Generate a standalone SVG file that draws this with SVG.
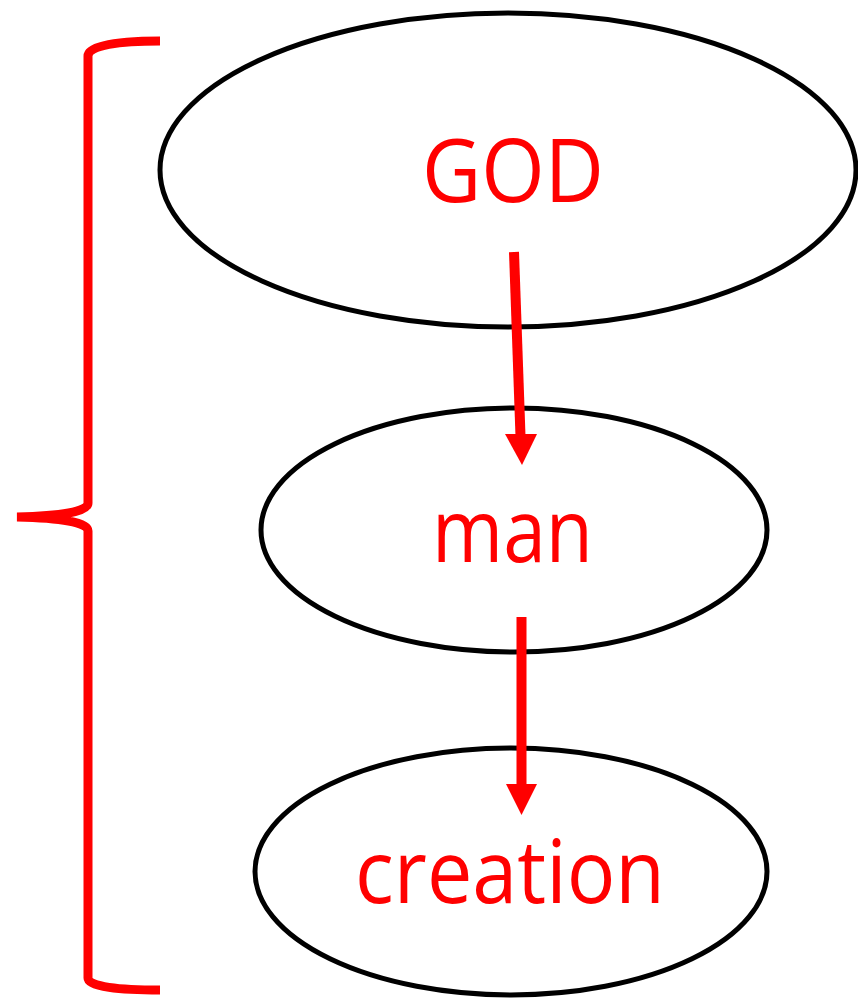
<svg xmlns="http://www.w3.org/2000/svg" width="858" height="998" viewBox="0 0 858 998">
<style>
.node{fill:#fff;stroke:#000;stroke-width:5}
.lbl{fill:#ff0000;font-family:"Open Sans","Liberation Sans",sans-serif;font-size:88px;text-anchor:middle}
.conn{stroke:#ff0000;stroke-width:10;fill:none}
.head{fill:#ff0000}
</style>
<rect width="858" height="998" fill="#fff"/>
<path d="M160,41 C120,41 88,45 88,56 L88,503 C88,512 60,516 17,517 C60,518 88,522 88,531 L88,978 C88,987 120,990 160,990" fill="none" stroke="#ff0000" stroke-width="9"/>
<g id="god"><ellipse class="node" cx="508" cy="170" rx="348" ry="157"/><text class="lbl" x="513" y="202" textLength="182" lengthAdjust="spacingAndGlyphs">GOD</text></g>
<g id="man"><ellipse class="node" cx="514" cy="530" rx="253" ry="122"/><text class="lbl" x="512.5" y="562" textLength="161" lengthAdjust="spacingAndGlyphs">man</text></g>
<g id="creation"><ellipse class="node" cx="511" cy="871.5" rx="256" ry="123.5"/><text class="lbl" x="510" y="903" textLength="310" lengthAdjust="spacingAndGlyphs">creation</text></g>
<g id="connectors">
<line class="conn" x1="514" y1="252" x2="520.5" y2="436"/>
<polygon class="head" points="505,434 537,434 522,465"/>
<line class="conn" x1="521.5" y1="617" x2="521.5" y2="786"/>
<polygon class="head" points="506,784 537,784 521.5,815"/>
</g>
</svg>
